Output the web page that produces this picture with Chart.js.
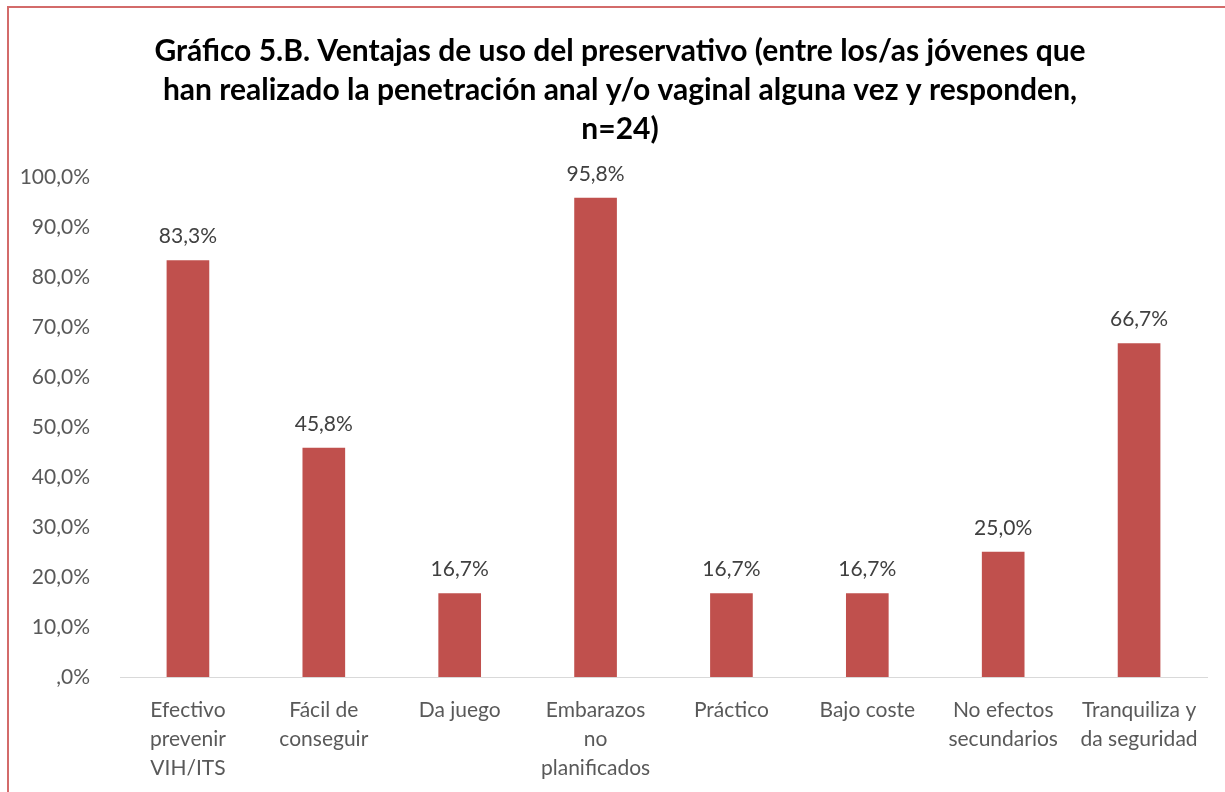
<!DOCTYPE html>
<html>
<head>
<meta charset="utf-8">
<script src="https://cdn.jsdelivr.net/npm/chart.js@4.4.1/dist/chart.umd.min.js"></script>
<style>
  html, body { margin: 0; padding: 0; background: #fff; overflow: hidden; width: 1225px; height: 792px; }
  #frame { position: absolute; left: 7px; top: 6px; width: 1300px; height: 900px;
           border-left: 2px solid #d36b6a; border-top: 2px solid #d36b6a; }
  #wrap { position: absolute; left: 0; top: 0; width: 1222px; height: 784px; }
</style>
</head>
<body>
<div id="frame"><div id="wrap"><canvas id="barChart"></canvas></div></div>
<script>
// datos del grafico
const categories = [
  ['Efectivo', 'prevenir', 'VIH/ITS'],
  ['Fácil de', 'conseguir'],
  'Da juego',
  ['Embarazos', 'no', 'planificados'],
  'Práctico',
  'Bajo coste',
  ['No efectos', 'secundarios'],
  ['Tranquiliza y', 'da seguridad']
];
const values = [83.3, 45.8, 16.7, 95.8, 16.7, 16.7, 25.0, 66.7];
const titleLines = [
  'Gráfico 5.B. Ventajas de uso del preservativo (entre los/as jóvenes que',
  'han realizado la penetración anal y/o vaginal alguna vez y responden,',
  'n=24)'
];
const yTicks = [0, 10, 20, 30, 40, 50, 60, 70, 80, 90, 100];

const fmt = function(v) {
  var s = v.toFixed(1).replace('.', ',');
  if (s.indexOf('0,') === 0) s = s.substring(1);
  return s + '%';
};

// etiquetas encima de las barras
const valueLabels = {
  id: 'valueLabels',
  afterDatasetsDraw: function(chart) {
    const ctx = chart.ctx;
    const meta = chart.getDatasetMeta(0);
    ctx.save();
    ctx.fillStyle = '#404040';
    ctx.font = '21px Lato';
    ctx.textAlign = 'center';
    ctx.textBaseline = 'middle';
    meta.data.forEach(function(bar, i) {
      ctx.fillText(fmt(values[i]), bar.x, bar.y - 24);
    });
    ctx.restore();
  }
};

const ctx = document.getElementById('barChart').getContext('2d');
new Chart(ctx, {
  type: 'bar',
  data: {
    labels: categories,
    datasets: [{
      data: values,
      backgroundColor: '#c0504d',
      borderWidth: 0,
      barThickness: 42
    }]
  },
  options: {
    responsive: true,
    maintainAspectRatio: false,
    animation: false,
    layout: { padding: 0 },
    plugins: {
      legend: { display: false },
      tooltip: { enabled: false },
      title: {
        display: true,
        text: titleLines,
        color: '#000',
        font: { family: 'Lato', size: 30, weight: 'bold', lineHeight: 1.3 },
        padding: { top: 24, bottom: 28 }
      }
    },
    scales: {
      x: {
        grid: { display: false },
        border: { display: true, color: '#d9d9d9', width: 1 },
        ticks: {
          color: '#595959',
          font: { family: 'Lato', size: 21, lineHeight: 1.38 },
          padding: 11,
          maxRotation: 0,
          autoSkip: false
        },
        afterFit: function(scale) { scale.height = 115; }
      },
      y: {
        min: 0,
        max: 100,
        grid: { display: false },
        border: { display: false },
        afterBuildTicks: function(scale) {
          scale.ticks = yTicks.map(function(v) { return { value: v }; });
        },
        ticks: {
          color: '#595959',
          font: { family: 'Lato', size: 21 },
          padding: 22,
          callback: function(v) { return fmt(v); }
        },
        afterFit: function(scale) { scale.width = 111; }
      },
      // eje vacio a la derecha, solo para dejar margen
      yRight: {
        position: 'right',
        min: 0,
        max: 100,
        grid: { display: false },
        border: { display: false },
        ticks: { display: false },
        afterFit: function(scale) { scale.width = 24; }
      }
    }
  },
  plugins: [valueLabels]
});
</script>
</body>
</html>
